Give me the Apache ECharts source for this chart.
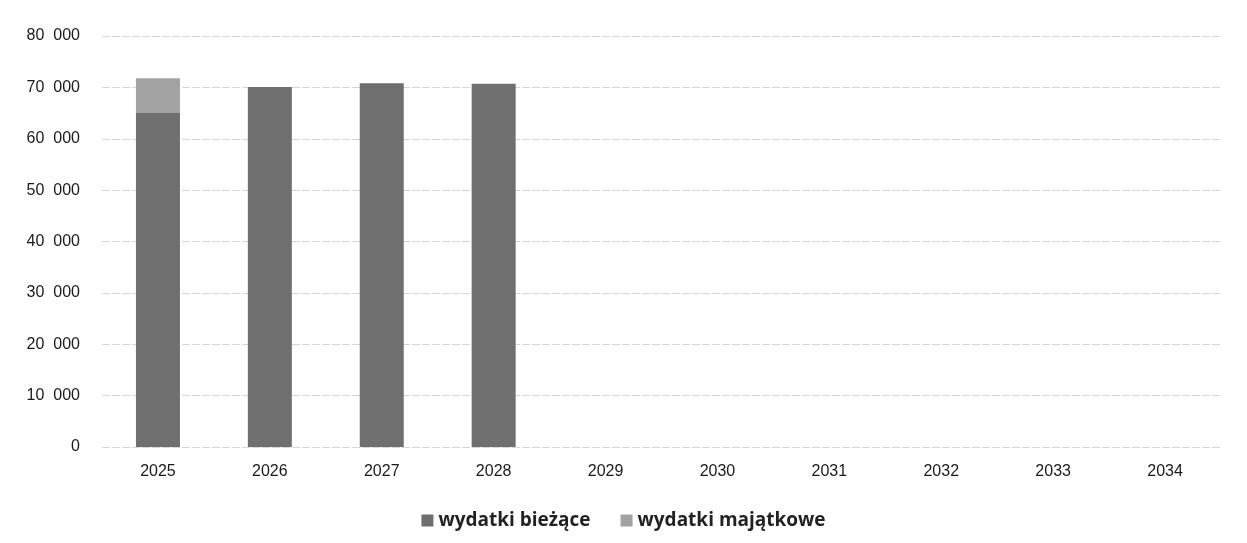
<!DOCTYPE html>
<html>
<head>
<meta charset="utf-8">
<script src="https://cdn.jsdelivr.net/npm/echarts@6/dist/echarts.min.js"></script>
<style>
  html, body { margin: 0; padding: 0; background: #fff; }
  #chart { width: 1247px; height: 543px; }
</style>
</head>
<body>
<div id="chart"></div>
<script>
const years = ["2025", "2026", "2027", "2028", "2029", "2030", "2031", "2032", "2033", "2034"];
const biezace = [65000, 70050, 70800, 70700, null, null, null, null, null, null];
const majatkowe = [6800, null, null, null, null, null, null, null, null, null];

const chart = echarts.init(document.getElementById("chart"));

// thousands separated by a wide space, like "80  000"
const fmt = (v) => String(v).replace(/\B(?=(\d{3})+(?!\d))/g, "  ");

chart.setOption({
  animation: false,
  grid: { left: 102, right: 26, top: 36, bottom: 96, containLabel: false },
  legend: {
    bottom: 8,
    left: "center",
    itemWidth: 12,
    itemHeight: 12,
    itemGap: 30,
    icon: "rect",
    textStyle: { fontFamily: "Open Sans", fontWeight: "bold", fontSize: 19, color: "#222" },
    data: ["wydatki bieżące", "wydatki majątkowe"]
  },
  xAxis: {
    type: "category",
    data: years,
    axisLine: { show: false },
    axisTick: { show: false },
    axisLabel: { fontFamily: "Liberation Sans", fontSize: 16, color: "#1a1a1a", margin: 17 }
  },
  yAxis: {
    type: "value",
    min: 0,
    max: 80000,
    interval: 10000,
    axisLabel: { formatter: fmt, fontFamily: "Liberation Sans", fontSize: 16, color: "#1a1a1a", margin: 22 },
    splitLine: { lineStyle: { color: "#d6d6d6", type: [8, 2] } }
  },
  series: [
    {
      name: "wydatki bieżące",
      type: "bar",
      stack: "total",
      barWidth: 44,
      itemStyle: { color: "#6f6f6f" },
      data: biezace
    },
    {
      name: "wydatki majątkowe",
      type: "bar",
      stack: "total",
      barWidth: 44,
      itemStyle: { color: "#a2a2a2" },
      data: majatkowe
    }
  ]
});

window.addEventListener("resize", () => chart.resize());
</script>
</body>
</html>
